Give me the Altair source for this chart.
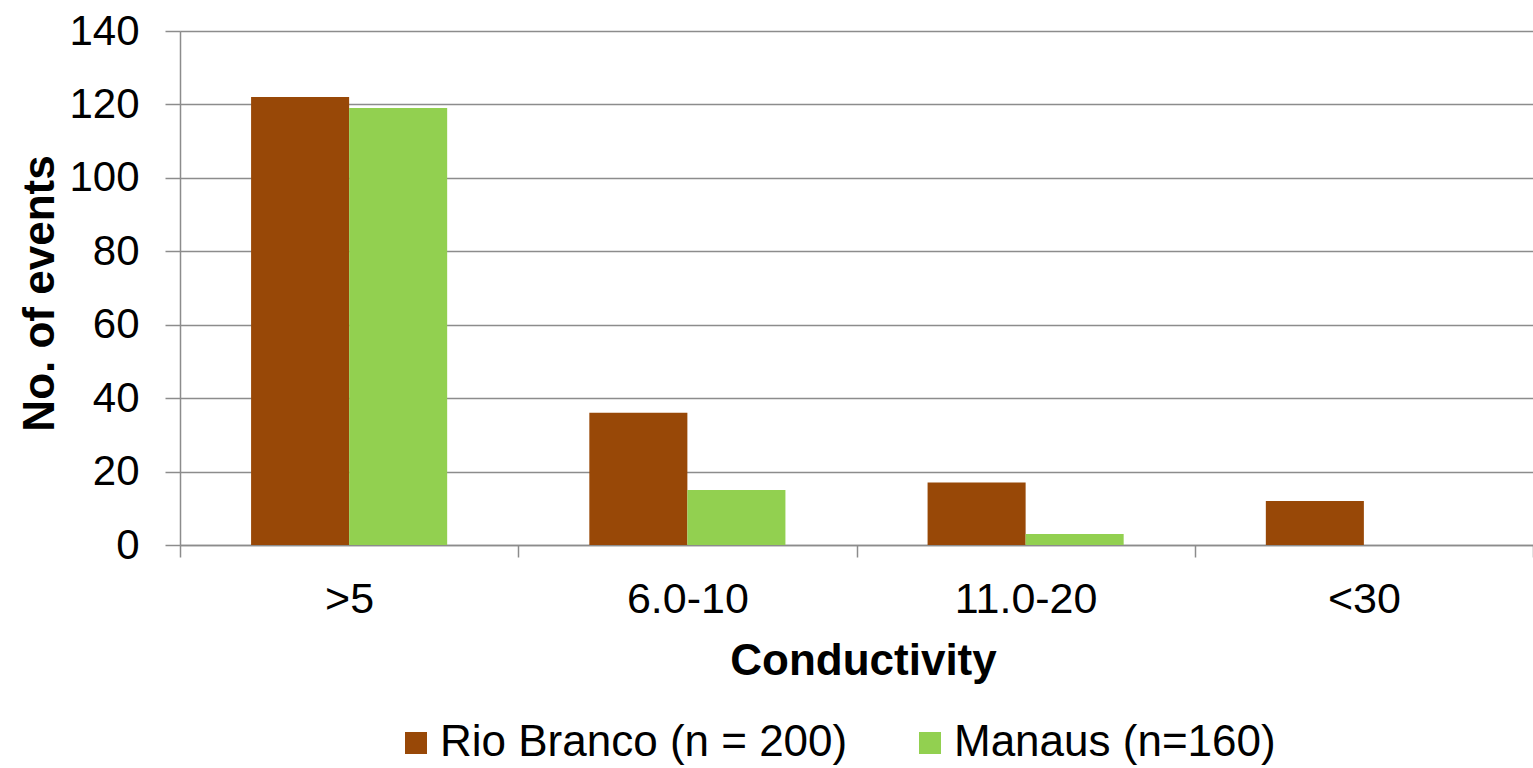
import altair as alt
import pandas as pd

# Event counts per conductivity class for the two sites
classes = [">5", "6.0-10", "11.0-20", "<30"]
series = ["Rio Branco (n = 200)", "Manaus (n=160)"]
rio_branco = [122, 36, 17, 12]
manaus = [119, 15, 3, 0]
colors = ["#984807", "#92D050"]

rows = []
for i, c in enumerate(classes):
    rows.append({"Conductivity": c, "site": series[0], "events": rio_branco[i]})
    rows.append({"Conductivity": c, "site": series[1], "events": manaus[i]})
df = pd.DataFrame(rows)

FONT = "Liberation Sans"
GRID = "#8c8c8c"

chart = (
    alt.Chart(df)
    .mark_bar()
    .encode(
        x=alt.X(
            "Conductivity:N",
            sort=classes,
            scale=alt.Scale(paddingInner=0, paddingOuter=0),
            axis=alt.Axis(
                title="Conductivity",
                labelAngle=0,
                tickBand="extent",
                tickSize=12,
                tickColor=GRID,
                tickWidth=1.5,
                domainColor=GRID,
                domainWidth=1.5,
                grid=False,
                labelFontSize=43,
                labelFont=FONT,
                labelColor="#000000",
                labelBaseline="alphabetic",
                labelPadding=55,
                titleFontSize=44,
                titleFont=FONT,
                titleFontWeight="bold",
                titleColor="#000000",
                titleBaseline="alphabetic",
                titleY=129,
                titleX=683,
            ),
        ),
        xOffset=alt.XOffset(
            "site:N", sort=series, scale=alt.Scale(paddingInner=0, paddingOuter=0.725)
        ),
        y=alt.Y(
            "events:Q",
            scale=alt.Scale(domain=[0, 140], nice=False),
            axis=alt.Axis(
                title="No. of events",
                values=[0, 20, 40, 60, 80, 100, 120, 140],
                tickSize=15,
                tickColor=GRID,
                tickWidth=1.5,
                domainColor=GRID,
                domainWidth=1.5,
                gridColor=GRID,
                gridWidth=1.5,
                labelFontSize=42,
                labelFont=FONT,
                labelColor="#000000",
                labelPadding=26,
                titleFontSize=44,
                titleFont=FONT,
                titleFontWeight="bold",
                titleColor="#000000",
                titleAngle=-90,
                titleBaseline="alphabetic",
                titleX=-127,
                titleY=262,
            ),
        ),
        color=alt.Color(
            "site:N",
            sort=series,
            scale=alt.Scale(domain=series, range=colors),
            legend=alt.Legend(
                title=None,
                orient="none",
                direction="horizontal",
                legendX=214,
                legendY=690,
                symbolType="square",
                symbolSize=484,
                symbolStrokeWidth=0,
                labelFontSize=44,
                labelFont=FONT,
                labelColor="#000000",
                labelOffset=2,
                labelLimit=0,
                columnPadding=60,
            ),
        ),
    )
    .properties(
        width=1353,
        height=514,
        title=alt.TitleParams(
            text="Frequency",
            fontSize=52,
            font=FONT,
            fontWeight="bold",
            color="#000000",
            baseline="alphabetic",
            offset=28,
            dx=-23,
        ),
        autosize=alt.AutoSizeParams(type="none"),
        padding={"left": 180, "top": 31, "right": 0, "bottom": 223},
    )
    .configure_view(stroke=None)
    .configure(background="white")
)

chart.save("out.html", embed_options={"renderer": "svg", "actions": False})
